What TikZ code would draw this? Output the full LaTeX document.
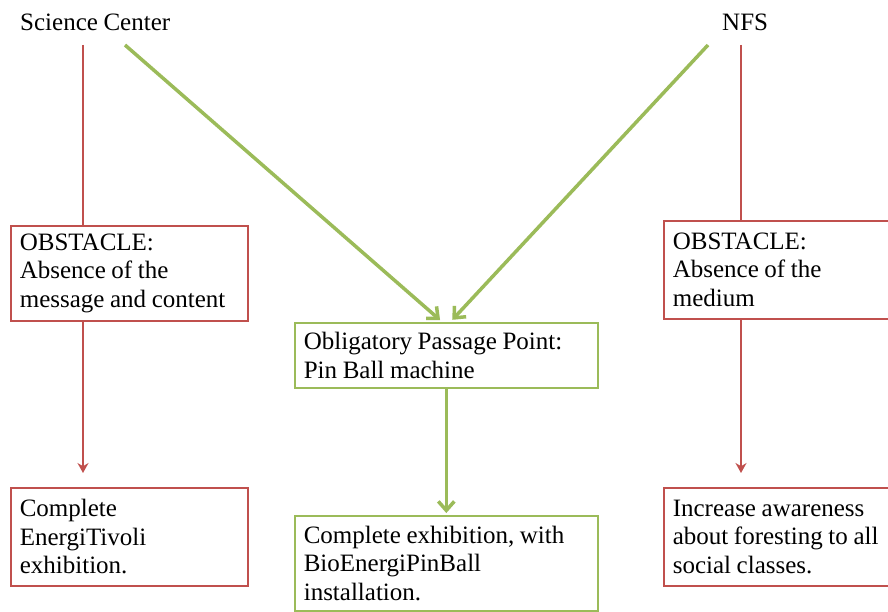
\documentclass[tikz,border=0pt]{standalone}
\usepackage{fontspec}
\setmainfont{Liberation Serif}[WordSpace=0.9]
\usetikzlibrary{arrows.meta}
\definecolor{redline}{RGB}{192,80,77}
\definecolor{greenline}{RGB}{155,187,89}

\begin{document}
\begin{tikzpicture}[x=1pt, y=-1pt, font=\fontsize{25}{28.5}\selectfont]
\tikzstyle{lbl} = [inner sep=0pt, anchor=west]
\tikzstyle{rbox} = [draw=redline, line width=1.6pt, anchor=north west, align=flush left, inner xsep=9pt, inner ysep=0pt, text width=219pt]
\tikzstyle{gbox} = [draw=greenline, line width=1.6pt, anchor=north west, align=flush left, inner xsep=9pt, inner ysep=0pt, text width=285pt]
\tikzstyle{rl} = [draw=redline, line width=1.5pt]
\tikzstyle{gl} = [draw=greenline, line width=3.5pt]

\useasboundingbox (0,0) rectangle (888,612);

\node[lbl] (sc) at (20,22) {Science Center};
\node[lbl] (nfs) at (722,22) {NFS};

\node[rbox, minimum height=95pt] (obsL) at (10,225) {OBSTACLE:\\Absence of the\\message and content};
\node[rbox, minimum height=98pt] (obsR) at (663,220) {OBSTACLE:\\Absence of the\\medium};
\node[gbox, minimum height=65pt] (opp) at (294,322) {Obligatory Passage Point:\\Pin Ball machine};
\node[rbox, minimum height=98pt] (goalL) at (10,487) {Complete\\EnergiTivoli\\exhibition.};
\node[gbox, minimum height=95pt] (goalM) at (294,515) {Complete exhibition, with\\BioEnergiPinBall\\installation.};
\node[rbox, minimum height=98pt] (goalR) at (663,487) {Increase awareness\\about foresting to all\\social classes.};

\coordinate (scR) at (83,45);
\coordinate (nfsR) at (741,45);
\coordinate (scG) at (125,45);
\coordinate (nfsG) at (708,45);

\draw[rl] (scR) -- (scR |- obsL.north);
\draw[rl, -{Stealth[length=10pt,width=11pt]}, shorten >=14pt] (scR |- obsL.south) -- (scR |- goalL.north);
\draw[rl] (nfsR) -- (nfsR |- obsR.north);
\draw[rl, -{Stealth[length=10pt,width=11pt]}, shorten >=14pt] (nfsR |- obsR.south) -- (nfsR |- goalR.north);

\draw[gl, -{Straight Barb[length=9pt,width=16pt]}, shorten >=3pt] (scG) -- ([xshift=-4pt]opp.north);
\draw[gl, -{Straight Barb[length=9pt,width=16pt]}, shorten >=3pt] (nfsG) -- ([xshift=4pt]opp.north);
\draw[gl, -{Straight Barb[length=9pt,width=16pt]}, shorten >=2pt] (opp.south) -- (goalM.north);
\end{tikzpicture}
\end{document}
